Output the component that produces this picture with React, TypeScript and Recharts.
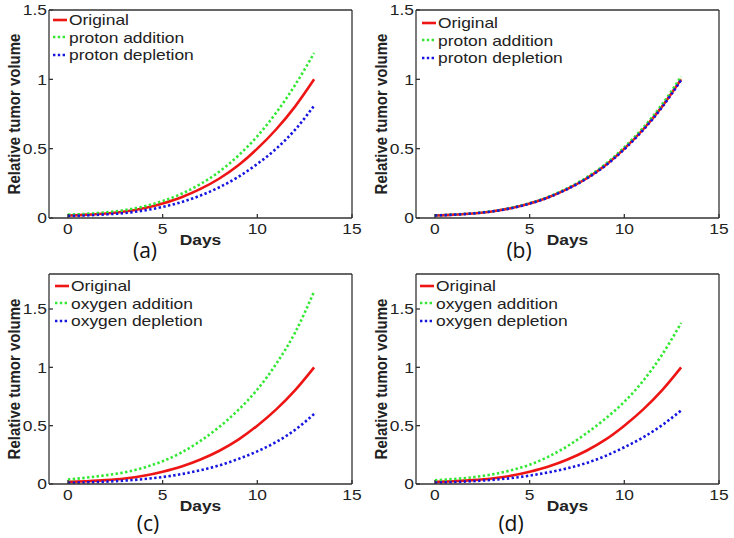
import React from 'react';
import { LineChart, Line, XAxis, YAxis, Legend } from 'recharts';

const days = [0, 1, 2, 3, 4, 5, 6, 7, 8, 9, 10, 11, 12, 13];

const original = [0.018, 0.024, 0.033, 0.047, 0.07, 0.105, 0.15, 0.21, 0.285, 0.38, 0.5, 0.64, 0.805, 1.0];

const protonAdditionA = [0.024, 0.03, 0.041, 0.057, 0.083, 0.122, 0.175, 0.245, 0.335, 0.45, 0.59, 0.76, 0.96, 1.19];
const protonDepletionA = [0.015, 0.019, 0.026, 0.036, 0.054, 0.08, 0.115, 0.162, 0.222, 0.297, 0.39, 0.5, 0.637, 0.81];

const protonAdditionB = [0.019, 0.025, 0.034, 0.048, 0.072, 0.107, 0.153, 0.215, 0.292, 0.388, 0.51, 0.652, 0.82, 1.02];
const protonDepletionB = [0.018, 0.024, 0.033, 0.047, 0.07, 0.104, 0.149, 0.209, 0.283, 0.377, 0.496, 0.635, 0.8, 0.995];

const oxygenAdditionC = [0.038, 0.055, 0.075, 0.1, 0.14, 0.195, 0.27, 0.37, 0.49, 0.635, 0.81, 1.03, 1.3, 1.65];
const oxygenDepletionC = [0.01, 0.014, 0.02, 0.029, 0.042, 0.06, 0.085, 0.118, 0.16, 0.215, 0.28, 0.36, 0.465, 0.6];

const oxygenAdditionD = [0.032, 0.043, 0.058, 0.082, 0.117, 0.165, 0.235, 0.325, 0.435, 0.56, 0.705, 0.885, 1.11, 1.38];
const oxygenDepletionD = [0.012, 0.017, 0.024, 0.035, 0.05, 0.072, 0.1, 0.135, 0.18, 0.24, 0.315, 0.4, 0.505, 0.63];

const xTicks = [0, 5, 10, 15];
const yTicks = [0, 0.5, 1, 1.5];

const RED = '#ee1515';
const GREEN = '#33e833';
const BLUE = '#1515e0';
const INK = '#222';
const FONT = '"Liberation Sans", Arial, sans-serif';
// the source figure is a bit stretched sideways, so the text is too
const STRETCH = 1.16;

function buildRows(addition: number[], depletion: number[]) {
  return days.map((d, i) => ({
    day: d,
    original: original[i],
    addition: addition[i],
    depletion: depletion[i],
  }));
}

function XTick(props: any) {
  const { x, y, payload } = props;
  return (
    <g transform={`translate(${x},${y}) scale(${STRETCH},1)`}>
      <text textAnchor="middle" dy="0.71em" fontFamily={FONT} fontSize={15} fill={INK}>
        {payload.value}
      </text>
    </g>
  );
}

function YTick(props: any) {
  const { x, y, payload } = props;
  return (
    <g transform={`translate(${x},${y}) scale(${STRETCH},1)`}>
      <text textAnchor="end" dy="0.355em" fontFamily={FONT} fontSize={15} fill={INK}>
        {payload.value}
      </text>
    </g>
  );
}

function renderLegend(props: any) {
  const items = props.payload || [];
  return (
    <div style={{ fontFamily: FONT, fontSize: 15, color: INK }}>
      {items.map((entry: any) => (
        <div key={entry.value} style={{ display: 'flex', alignItems: 'center', height: 17.5, whiteSpace: 'nowrap' }}>
          <svg width={15} height={6} style={{ marginRight: 1 }}>
            <line
              x1={0}
              y1={3}
              x2={14}
              y2={3}
              stroke={entry.color}
              strokeWidth={2.6}
              strokeDasharray={entry.payload?.strokeDasharray}
            />
          </svg>
          <span style={{ display: 'inline-block', transform: `scaleX(${STRETCH})`, transformOrigin: 'left center' }}>
            {entry.value}
          </span>
        </div>
      ))}
    </div>
  );
}

function YLabel(props: any) {
  const vb = props.viewBox || {};
  const x = vb.x + 11;
  const y = vb.y + vb.height / 2;
  return (
    <g transform={`translate(${x},${y}) rotate(-90) scale(1,${STRETCH})`}>
      <text textAnchor="middle" fontFamily={FONT} fontWeight="bold" fontSize={15} fill={INK}>
        Relative tumor volume
      </text>
    </g>
  );
}

function XLabel(props: any) {
  const vb = props.viewBox || {};
  return (
    <g transform={`translate(${vb.x + vb.width / 2},${vb.y + 26.5}) scale(${STRETCH},1)`}>
      <text textAnchor="middle" fontFamily={FONT} fontWeight="bold" fontSize={15} fill={INK}>
        Days
      </text>
    </g>
  );
}

interface PanelProps {
  left: number;
  top: number;
  plotTop: number;
  plotHeight: number;
  yMax: number;
  rows: { day: number; original: number; addition: number; depletion: number }[];
  addName: string;
  depName: string;
  legendLeft: number;
  legendTop: number;
}

function Panel({ left, top, plotTop, plotHeight, yMax, rows, addName, depName, legendLeft, legendTop }: PanelProps) {
  const w = 367;
  const h = 269;
  const axisH = 30;
  const axisLine = { stroke: '#333', strokeWidth: 1.3 };

  return (
    <div style={{ position: 'absolute', left, top, width: w, height: h }}>
      <LineChart
        width={w}
        height={h}
        data={rows}
        margin={{ top: plotTop - 1, right: 14, bottom: h - plotTop - plotHeight - axisH, left: 9 }}
      >
        <XAxis
          dataKey="day"
          type="number"
          domain={[-1, 15]}
          ticks={xTicks}
          interval={0}
          height={axisH}
          tick={<XTick />}
          tickSize={-4}
          tickMargin={9}
          axisLine={axisLine}
          tickLine={axisLine}
          label={{ content: XLabel }}
        />
        <XAxis
          xAxisId="top"
          orientation="top"
          dataKey="day"
          type="number"
          domain={[-1, 15]}
          allowDataOverflow
          ticks={xTicks}
          interval={0}
          height={1}
          tick={false}
          tickSize={-4}
          axisLine={axisLine}
          tickLine={axisLine}
        />
        <YAxis
          type="number"
          domain={[0, yMax]}
          allowDataOverflow
          ticks={yTicks}
          interval={0}
          width={40}
          tick={<YTick />}
          tickSize={-4}
          tickMargin={6}
          axisLine={axisLine}
          tickLine={axisLine}
          label={{ content: YLabel }}
        />
        <YAxis
          yAxisId="right"
          orientation="right"
          type="number"
          domain={[0, yMax]}
          allowDataOverflow
          ticks={yTicks}
          interval={0}
          width={1}
          tick={false}
          tickSize={-4}
          axisLine={axisLine}
          tickLine={axisLine}
        />
        <Legend
          layout="vertical"
          align="center"
          verticalAlign="middle"
          content={renderLegend}
          wrapperStyle={{ left: legendLeft, top: legendTop, width: 'auto' }}
        />
        <Line
          type="monotone"
          dataKey="original"
          name="Original"
          stroke={RED}
          strokeWidth={2.6}
          dot={false}
          isAnimationActive={false}
        />
        <Line
          type="monotone"
          dataKey="addition"
          name={addName}
          stroke={GREEN}
          strokeWidth={2.6}
          strokeDasharray="2.4 2.4"
          dot={false}
          isAnimationActive={false}
        />
        <Line
          type="monotone"
          dataKey="depletion"
          name={depName}
          stroke={BLUE}
          strokeWidth={2.6}
          strokeDasharray="2.4 2.4"
          dot={false}
          isAnimationActive={false}
        />
      </LineChart>
    </div>
  );
}

function Tag({ text, cx, cy }: { text: string; cx: number; cy: number }) {
  return (
    <div
      style={{
        position: 'absolute',
        left: cx - 25,
        top: cy - 14,
        width: 50,
        height: 28,
        lineHeight: '28px',
        textAlign: 'center',
        fontFamily: '"Open Sans", sans-serif',
        fontSize: 21,
        color: '#111',
      }}
    >
      {text}
    </div>
  );
}

export default function App() {
  return (
    <div style={{ position: 'absolute', left: 0, top: 0, width: 734, height: 538, background: '#fff' }}>
      <Panel
        left={0}
        top={0}
        plotTop={10}
        plotHeight={208}
        yMax={1.5}
        rows={buildRows(protonAdditionA, protonDepletionA)}
        addName="proton addition"
        depName="proton depletion"
        legendLeft={53}
        legendTop={11}
      />
      <Panel
        left={367}
        top={0}
        plotTop={10}
        plotHeight={208}
        yMax={1.5}
        rows={buildRows(protonAdditionB, protonDepletionB)}
        addName="proton addition"
        depName="proton depletion"
        legendLeft={55}
        legendTop={14}
      />
      <Panel
        left={0}
        top={269}
        plotTop={5}
        plotHeight={210}
        yMax={1.8}
        rows={buildRows(oxygenAdditionC, oxygenDepletionC)}
        addName="oxygen addition"
        depName="oxygen depletion"
        legendLeft={55}
        legendTop={8}
      />
      <Panel
        left={367}
        top={269}
        plotTop={5}
        plotHeight={210}
        yMax={1.8}
        rows={buildRows(oxygenAdditionD, oxygenDepletionD)}
        addName="oxygen addition"
        depName="oxygen depletion"
        legendLeft={53}
        legendTop={8}
      />
      <Tag text="(a)" cx={145} cy={250} />
      <Tag text="(b)" cx={519} cy={250} />
      <Tag text="(c)" cx={148} cy={523} />
      <Tag text="(d)" cx={511} cy={523} />
    </div>
  );
}
